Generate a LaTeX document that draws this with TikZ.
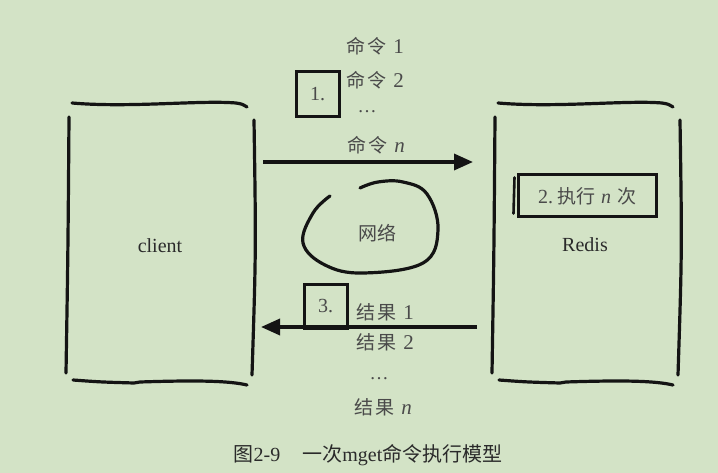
\documentclass[tikz,border=0pt]{standalone}
\usepackage{fontspec}
\setmainfont{Liberation Serif}
\newfontfamily\cjk{Noto Sans CJK SC}
\usetikzlibrary{arrows.meta}
\definecolor{bg}{HTML}{D3E3C6}
\definecolor{ink}{HTML}{141414}
\definecolor{txt}{HTML}{4A4A4A}
\definecolor{dark}{HTML}{2A2A2A}
\tikzset{
  sketch/.style={draw=ink, line width=3.2pt, line cap=round},
  lab/.style={text=txt, font=\fontsize{19}{21}\selectfont, inner sep=0pt},
  title/.style={text=dark, font=\fontsize{20}{22}\selectfont, inner sep=0pt},
  numbox/.style={draw=ink, line width=3pt, inner sep=0pt, text=txt,
    font=\fontsize{20}{22}\selectfont},
  flow/.style={draw=ink, line width=3.4pt, -{Triangle[length=19pt,width=16pt]}},
  caption/.style={text=dark, font=\fontsize{20}{22}\selectfont, inner sep=0pt},
}
\begin{document}
\begin{tikzpicture}[x=1pt,y=-1pt]
\fill[bg] (0,0) rectangle (718,473);
\useasboundingbox (0,0) rectangle (718,473);

% hand-drawn frames of client and Redis
\foreach \dx in {0,426}{
  \begin{scope}[xshift=\dx pt]
    \draw[sketch] (72,103) .. controls (130,108) and (200,100) .. (236,103) .. controls (242,104) .. (247,107);
    \draw[sketch] (69,117) .. controls (68,250) .. (66,373);
    \draw[sketch] (254,120) .. controls (256,250) .. (252,375);
    \draw[sketch] (73,380) .. controls (100,382) .. (134,383) -- (140,382) .. controls (200,380) and (230,381) .. (247,385);
  \end{scope}
}

% box contents
\node[title] (client) at (160,246) {client};
\node[title] (redis) at (585,245) {Redis};
\node[numbox, minimum width=138pt, minimum height=42pt] (exec) at (587,196)
  {2.\hspace{4pt}{\cjk\fontsize{19}{21}\selectfont 执行}\hspace{6pt}\textit{n}\hspace{6pt}{\cjk\fontsize{19}{21}\selectfont 次}};
\draw[sketch, line width=2.6pt] (exec.north west) ++(-2,4) -- ++(-1,36);

% request arrow
\coordinate (reqs) at (263,162);
\coordinate (reqe) at (473,162);
\draw[flow] (reqs) -- (reqe);
\node[numbox, minimum width=43pt, minimum height=45pt] (b1) at (317.5,94.5) {1.};
\node[lab] (c1) at (375,46) {{\cjk 命\hspace{2pt}令}\hspace{7pt}{\fontsize{21}{22}\selectfont 1}};
\node[lab] (c2) at (375,80) {{\cjk 命\hspace{2pt}令}\hspace{7pt}{\fontsize{21}{22}\selectfont 2}};
\node[lab] (cd) at (367,112) {\dots};
\node[lab] (cn) at (376,145) {{\cjk 命\hspace{2pt}令}\hspace{7pt}{\fontsize{21}{22}\selectfont\textit{n}}};

% network
\draw[sketch] plot[smooth, tension=0.65] coordinates {(330,196) (313,213) (303,243) (325,265) (363,273) (423,263) (438,230) (427,194) (403,182) (378,182) (360,188)};
\node[lab] (net) at (377,233) {\cjk 网络};

% response arrow
\coordinate (ress) at (477,327);
\coordinate (rese) at (261,327);
\draw[flow] (ress) -- (rese);
\node[numbox, minimum width=43pt, minimum height=43pt] (b3) at (325.5,306.5) {3.};
\node[lab] (r1) at (385,312) {{\cjk 结\hspace{2pt}果}\hspace{7pt}{\fontsize{21}{22}\selectfont 1}};
\node[lab] (r2) at (385,342) {{\cjk 结\hspace{2pt}果}\hspace{7pt}{\fontsize{21}{22}\selectfont 2}};
\node[lab] (rd) at (379,379) {\dots};
\node[lab] (rn) at (383,407) {{\cjk 结\hspace{2pt}果}\hspace{7pt}{\fontsize{21}{22}\selectfont\textit{n}}};

% caption
\node[caption] (cap) at (368,455) {{\cjk 图}2-9\hspace{22pt}{\cjk 一次}mget{\cjk 命令执行模型}};
\end{tikzpicture}
\end{document}
